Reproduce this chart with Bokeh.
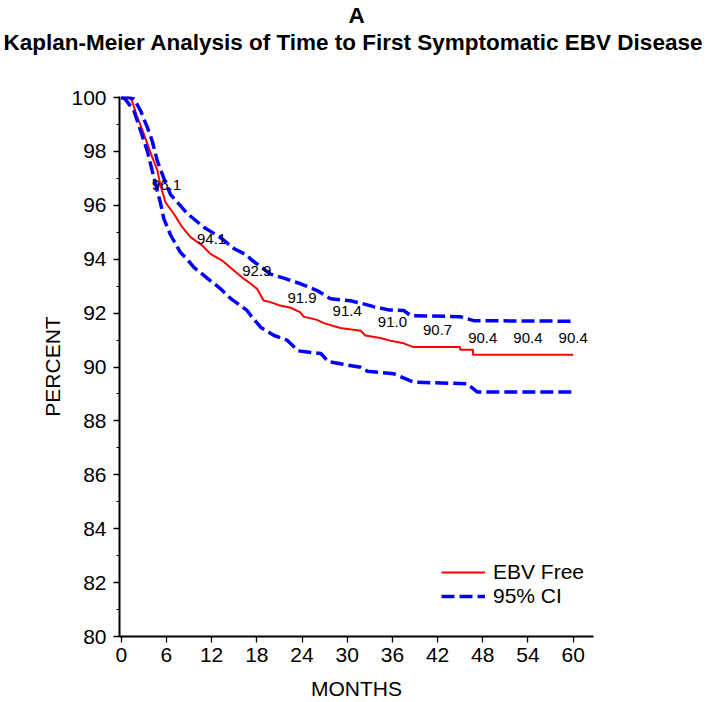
from bokeh.plotting import figure
from bokeh.models import Range1d, FixedTicker, Legend, LegendItem, Title
from bokeh.embed import file_html
from bokeh.resources import INLINE
from bokeh.core.properties import value

# ---------------- data ----------------
km_months = [0, 1.2, 1.4, 2.1, 2.8, 3.45, 4.1, 4.8, 5.2, 5.9, 7.0, 8.1, 9.2, 10.75,
             11.85, 13.4, 14.95, 16.3, 17.2, 18.05, 18.9, 19.8, 21.1, 22.5, 23.8,
             24.2, 26.0, 26.9, 29.1, 31.8, 32.4, 34.4, 35.7, 37.5, 38.8, 45.0,
             45.0, 46.7, 46.7, 60.0]
km_pct = [100, 100, 99.9, 99.3, 98.8, 98.3, 97.8, 97.3, 96.75, 96.1, 95.68, 95.19,
          94.82, 94.51, 94.2, 93.95, 93.58, 93.27, 93.09, 92.9, 92.47, 92.41, 92.28,
          92.2, 92.03, 91.87, 91.75, 91.63, 91.45, 91.35, 91.17, 91.08, 90.98,
          90.88, 90.74, 90.74, 90.64, 90.64, 90.46, 90.46]

upper_months = [0, 1.0, 1.7, 2.56, 3.45, 4.1, 4.78, 5.66, 6.55, 7.5, 8.76, 10.97,
                13.2, 14.95, 16.7, 17.2, 19.8, 21.6, 23.8, 26.0, 27.8, 30.4, 31.8,
                33.5, 35.5, 37.5, 38.4, 45.0, 46.8, 60.0]
upper_pct = [100, 100, 99.95, 99.52, 98.9, 98.4, 97.66, 97.0, 96.4, 96.1, 95.7,
             95.19, 94.8, 94.4, 94.15, 94.0, 93.45, 93.3, 93.09, 92.84, 92.53,
             92.46, 92.37, 92.24, 92.12, 92.1, 91.91, 91.87, 91.72, 91.7]

lower_months = [0, 0.5, 1.67, 2.56, 3.45, 4.1, 4.78, 5.2, 5.66, 6.55, 7.87, 8.76,
                9.64, 10.97, 11.85, 13.2, 14.5, 16.7, 17.2, 18.5, 20.3, 22.0, 23.5,
                26.5, 27.5, 29.1, 31.8, 32.7, 36.2, 38.8, 45.9, 47.3, 60.0]
lower_pct = [100, 99.95, 99.52, 98.78, 98.03, 97.3, 96.55, 96.1, 95.5, 94.9, 94.25,
             94.0, 93.7, 93.4, 93.2, 92.9, 92.55, 92.1, 91.91, 91.48, 91.17, 91.0,
             90.6, 90.5, 90.2, 90.12, 89.99, 89.84, 89.75, 89.44, 89.38, 89.07, 89.07]

label_months = [6, 12, 18, 24, 30, 36, 42, 48, 54, 60]
label_values = [96.1, 94.1, 92.9, 91.9, 91.4, 91.0, 90.7, 90.4, 90.4, 90.4]
label_texts = [f"{v:.1f}" for v in label_values]

x_ticks = list(range(0, 61, 6))
y_ticks = list(range(80, 101, 2))
y_minor = list(range(81, 100, 2))

FONT = "Liberation Sans"
RED = "#ff0000"
BLUE = "#0000ff"

p = figure(width=712, height=702, output_backend="svg", toolbar_location=None,
           x_range=Range1d(-0.23, 62.7), y_range=Range1d(80, 100.04),
           min_border_left=119, min_border_right=119,
           min_border_top=96, min_border_bottom=66,
           title="A")
p.title.text_font = FONT
p.title.text_font_size = "22.5px"
p.title.text_font_style = "bold"
p.title.text_color = "black"
p.title.align = "center"
p.title.offset = 48
p.title.standoff = 0

xax = p.xaxis[0]
yax = p.yaxis[0]

# blank spacer panel between the title and the plotting area (added first: nearest the frame)
p.add_layout(Title(text=" ", text_font=FONT, text_font_size="22.5px",
                   standoff=15), "above")

p.add_layout(Title(text="Kaplan-Meier Analysis of Time to First Symptomatic  EBV Disease",
                   text_font=FONT, text_font_size="22.5px",
                   text_font_style="bold", text_color="black",
                   align="center", standoff=0), "above")

p.grid.visible = False
p.outline_line_color = None
p.background_fill_color = "white"
p.border_fill_color = "white"

for ax in (xax, yax):
    ax.axis_line_width = 2
    ax.axis_line_color = "black"
    ax.major_tick_line_color = "black"
    ax.major_tick_line_width = 1.3
    ax.minor_tick_line_color = "black"
    ax.major_tick_in = 0
    ax.major_tick_out = 6
    ax.minor_tick_in = 0
    ax.minor_tick_out = 3
    ax.major_label_text_font = FONT
    ax.major_label_text_font_size = "21px"
    ax.major_label_text_color = "black"
    ax.axis_label_text_font = FONT
    ax.axis_label_text_font_size = "21px"
    ax.axis_label_text_font_style = "normal"
    ax.axis_label_text_color = "black"

xax.ticker = FixedTicker(ticks=x_ticks, minor_ticks=[])
yax.ticker = FixedTicker(ticks=y_ticks, minor_ticks=y_minor)
xax.major_label_standoff = 5
yax.major_label_standoff = 7
xax.axis_label = "MONTHS"
yax.axis_label = "PERCENT"
xax.axis_label_standoff = 12
yax.axis_label_standoff = 4

red = p.line(km_months, km_pct, line_color=RED, line_width=2)
up = p.line(upper_months, upper_pct, line_color=BLUE, line_width=3.5, line_dash="13 5")
lo = p.line(lower_months, lower_pct, line_color=BLUE, line_width=3.5, line_dash="13 5")

p.text(x=label_months, y=label_values, text=label_texts,
       text_font=value(FONT), text_font_size=value("15px"), text_color="black",
       text_align="center", text_baseline="middle", y_offset=-18)

legend = Legend(items=[LegendItem(label="EBV Free", renderers=[red]),
                       LegendItem(label="95% CI", renderers=[up])],
                location=(322, 28), padding=0, margin=0, spacing=0,
                glyph_width=44, glyph_height=22, label_height=22, label_standoff=8,
                label_text_font=FONT, label_text_font_size="21px",
                label_text_color="black",
                border_line_alpha=0, background_fill_alpha=0)
p.add_layout(legend)

open("out.html", "w").write(file_html(p, INLINE))
